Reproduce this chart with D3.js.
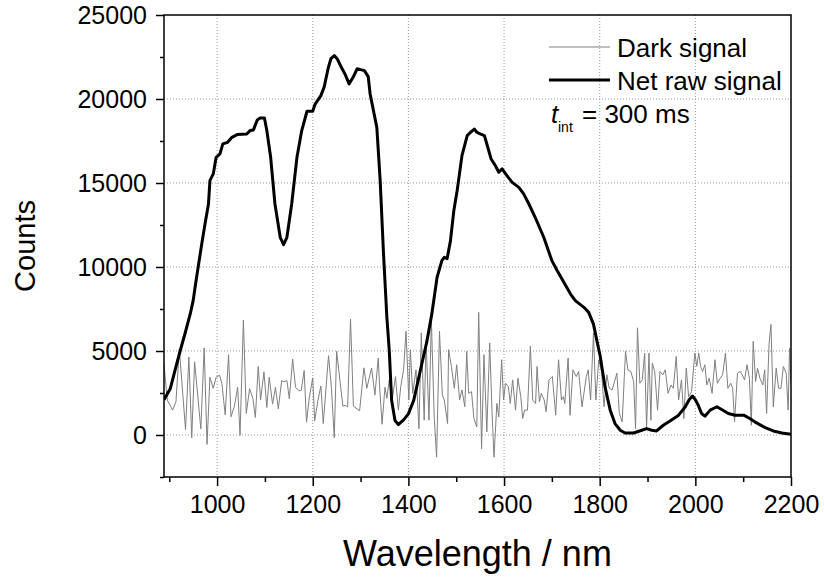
<!DOCTYPE html>
<html>
<head>
<meta charset="utf-8">
<script src="https://cdn.jsdelivr.net/npm/d3@7"></script>
<style>
  body { margin: 0; background: #fff; }
  svg { display: block; font-family: "Liberation Sans", Arial, Helvetica, sans-serif; }
</style>
</head>
<body>
<div id="chart"></div>
<script>
// dark signal (spectrometer noise)
const darkWavelength = [889, 896, 907, 914, 921, 934, 941, 947, 953, 966, 973, 979, 985, 992, 998, 1005, 1010, 1017, 1024, 1029, 1036, 1043, 1048, 1055, 1061, 1068, 1075, 1080, 1086, 1091, 1098, 1104, 1109, 1116, 1122, 1128, 1135, 1140, 1146, 1151, 1158, 1164, 1171, 1176, 1182, 1187, 1193, 1200, 1204, 1211, 1217, 1222, 1233, 1239, 1245, 1250, 1263, 1268, 1273, 1279, 1285, 1298, 1307, 1313, 1323, 1330, 1337,
  1340, 1345, 1351, 1355, 1360, 1366, 1373, 1379, 1384, 1390, 1395, 1401, 1404, 1409, 1416, 1422, 1427, 1433, 1437, 1443, 1448, 1454, 1459, 1465, 1471, 1475, 1482, 1484, 1490, 1496, 1501, 1507, 1512, 1518, 1522, 1526, 1532, 1537, 1543, 1547, 1553, 1558, 1564, 1570, 1575, 1579, 1585, 1589, 1595, 1599, 1603, 1609, 1613, 1618, 1624, 1629, 1635, 1639, 1643, 1649, 1655, 1660, 1666, 1669, 1674, 1678, 1684, 1688, 1694, 1701, 1708, 1714, 1720, 1724, 1727, 1734, 1738, 1744, 1751, 1756, 1763, 1772, 1776,
  1781, 1787, 1792, 1798, 1804, 1809, 1815, 1820, 1826, 1831, 1836, 1841, 1847, 1854, 1859, 1865, 1871, 1875, 1879, 1884, 1889, 1894, 1898, 1903, 1907, 1910, 1915, 1921, 1926, 1932, 1937, 1943, 1949, 1954, 1960, 1965, 1971, 1976, 1981, 1986, 1992, 1999, 2003, 2007, 2011, 2015, 2020, 2024, 2029, 2035, 2041, 2046, 2052, 2057, 2063, 2068, 2074, 2078, 2082, 2088, 2094, 2098, 2103, 2108, 2113, 2117, 2121, 2126, 2130, 2135, 2141, 2145, 2149, 2154, 2158, 2163, 2169, 2174, 2179, 2184, 2190, 2194, 2197, 2200];
const darkCounts = [4200, 2080, 1480, 1980, 5120, 320, 4640, -160, 4360, 360, 5180, -560, 3440, 2780, 3440, 3560, 3080, 1200, 4780, 1080, 1680, 2840, -20, 6840, 1280, 2760, 2160, 1040, 4080, 2080, 3760, 1640, 3440, 1840, 2840, 1560, 3240, 3160, 3240, 2160, 4520, 2840, 2640, 2640, 3840, 760, 2280, 3400, 840, 2080, 2920, 680, 4720, 2840, -160, 4980, 1720, 1760, 1680, 6900, 1720, 1440, 4000, 2780, 3980, 2380, 4580,
  2780, 640, 2840, 2180, 3280, 2080, 3480, 1480, 2880, 3880, 6180, 2080, 5080, 2480, 3880, 380, 6080, 880, 5680, 880, 6880, 1080, -1320, 6180, 2380, 2080, 680, 5080, 4080, 2780, 4180, 2080, 2680, 1680, 4980, 2480, 2580, 980, 480, 7300, -820, 4780, 180, 5480, 1280, -1320, 1880, 1080, 4480, 2080, 3080, 2880, 1880, 3280, 1480, 3380, 2280, 980, 1480, 1480, 5280, 2080, 1880, 4080, 1980, 2480, 2080, 1380, 3280, 3480, 1180, 4480, 2080, 2280, 1880, 4580, 1180, 3880, 3480, 3780, 1680, 3480, 3880,
  2080, 6080, 2080, 4480, 3780, 1680, 3580, 2780, 2680, 3180, 3680, 1280, 780, 4980, 3880, 3780, 3180, 380, 6380, 3080, 3280, 4880, 380, 4880, 880, 4280, 3780, 1480, 3780, 3580, 3880, 2480, 2980, 2780, 4680, 2080, 3280, 980, 3980, 2280, 2580, 4880, 4080, 4880, 4080, 3780, 4180, 2980, 3380, 2480, 4480, 3080, 3380, 3580, 4880, 2780, 3080, 2780, 780, 3680, 3780, 3580, 3280, 4180, 3380, 580, 5580, 3180, 3980, 3380, 2980, 3880, 1280, 5380, 6580, 1680, 3980, 2780, 2780, 4080, 3680, 1480, 5180, 3080];

// net raw signal
const netWavelength = [889, 902, 912, 923, 933, 944, 950, 954, 961, 968, 975, 982, 985, 992, 998, 1006, 1012, 1022, 1031, 1042, 1062, 1069, 1076, 1084, 1090, 1099, 1104, 1112, 1121, 1132, 1139, 1146, 1156, 1167, 1177, 1188, 1200, 1205, 1217, 1224, 1232, 1238, 1245, 1251, 1259, 1268, 1276, 1285, 1293, 1300, 1308, 1316, 1320, 1334, 1341, 1348, 1355, 1360, 1365, 1372, 1379, 1390, 1400, 1411, 1425, 1439, 1449, 1460, 1470, 1475, 1481, 1488, 1495, 1502, 1512, 1523, 1530, 1538, 1543, 1550, 1559, 1564, 1573, 1582, 1589, 1596, 1606, 1617, 1631, 1641, 1652, 1665, 1683, 1700, 1711, 1725, 1739, 1749, 1767, 1777, 1787, 1795, 1801, 1811, 1822, 1832, 1843, 1853, 1871, 1888, 1898, 1909, 1919, 1933, 1947, 1965, 1979, 1987, 1994, 2000, 2006, 2013, 2020, 2031, 2045, 2055, 2069, 2083, 2101, 2114, 2128, 2146, 2163, 2181, 2200];
const netCounts = [2100, 2750, 3840, 5030, 6040, 7220, 8000, 8790, 10100, 11380, 12600, 13750, 15140, 15540, 16530, 16730, 17330, 17420, 17720, 17880, 17920, 18120, 18160, 18750, 18870, 18870, 18120, 16530, 13750, 11770, 11330, 11770, 13750, 16530, 18120, 19270, 19270, 19700, 20200, 20720, 21800, 22400, 22580, 22400, 21930, 21450, 20900, 21330, 21800, 21750, 21690, 21330, 20300, 18310, 15140, 10780, 7000, 5030, 2050, 860, 620, 900, 1260, 2050, 3840, 5620, 7210, 9390, 10380, 10580, 10500, 11570, 13350, 14550, 16630, 17820, 18020, 18210, 18020, 17920, 17820, 17320, 16430, 16030, 15640, 15840, 15440, 15040, 14740, 14350, 13750, 12960, 11770, 10380, 9790, 9090, 8390, 8000, 7600, 7300, 6600, 5500, 4700, 2880, 1480, 680, 280, 120, 120, 280, 380, 280, 240, 580, 840, 1180, 1680, 2100, 2320, 2100, 1780, 1280, 1120, 1480, 1680, 1520, 1280, 1180, 1180, 980, 720, 440, 240, 120, 40];

const xMajor = [1000, 1200, 1400, 1600, 1800, 2000, 2200];
const xMinor = [900, 1100, 1300, 1500, 1700, 1900, 2100];
const yMajor = [0, 5000, 10000, 15000, 20000, 25000];
const yMinor = [-2500, 2500, 7500, 12500, 17500, 22500];
const xGrid = [1000, 1200, 1400, 1600, 1800, 2000];
const yGrid = [0, 5000, 10000, 15000, 20000];

const width = 824, height = 579;
const margin = { top: 15, right: 33, bottom: 102, left: 164 };
const x = d3.scaleLinear().domain([889, 2200]).range([margin.left, width - margin.right]);
const y = d3.scaleLinear().domain([-2500, 25000]).range([height - margin.bottom, margin.top]);

const svg = d3.select('#chart').append('svg')
  .attr('width', width)
  .attr('height', height);

svg.append('defs').append('clipPath').attr('id', 'plot')
  .append('rect')
  .attr('x', x.range()[0]).attr('y', y.range()[1])
  .attr('width', x.range()[1] - x.range()[0])
  .attr('height', y.range()[0] - y.range()[1]);

// dotted grid
svg.append('g').selectAll('line').data(xGrid).join('line')
  .attr('x1', d => x(d)).attr('x2', d => x(d))
  .attr('y1', y.range()[1]).attr('y2', y.range()[0])
  .attr('stroke', '#999').attr('stroke-dasharray', '1,2');
svg.append('g').selectAll('line').data(yGrid).join('line')
  .attr('x1', x.range()[0]).attr('x2', x.range()[1])
  .attr('y1', d => y(d)).attr('y2', d => y(d))
  .attr('stroke', '#999').attr('stroke-dasharray', '1,2');

// lines
const dark = darkWavelength.map((w, i) => [w, darkCounts[i]]);
const net = netWavelength.map((w, i) => [w, netCounts[i]]);
const line = d3.line().x(d => x(d[0])).y(d => y(d[1]));

const plot = svg.append('g').attr('clip-path', 'url(#plot)');
plot.append('path').datum(dark)
  .attr('d', line)
  .attr('fill', 'none')
  .attr('stroke', '#808080')
  .attr('stroke-width', 1);
plot.append('path').datum(net)
  .attr('d', line)
  .attr('fill', 'none')
  .attr('stroke', '#000')
  .attr('stroke-width', 3)
  .attr('stroke-linejoin', 'round');

// axes
svg.append('g')
  .attr('transform', `translate(0,${y.range()[0]})`)
  .call(d3.axisBottom(x).tickValues(xMajor).tickSize(9).tickPadding(9).tickFormat(d3.format('d')));
svg.append('g')
  .attr('transform', `translate(0,${y.range()[0]})`)
  .call(d3.axisBottom(x).tickValues(xMinor).tickSize(5).tickFormat(''));
svg.append('g')
  .attr('transform', `translate(${x.range()[0]},0)`)
  .call(d3.axisLeft(y).tickValues(yMajor).tickSize(8).tickPadding(9).tickFormat(d3.format('d')));
svg.append('g')
  .attr('transform', `translate(${x.range()[0]},0)`)
  .call(d3.axisLeft(y).tickValues(yMinor).tickSize(4).tickFormat(''));

svg.selectAll('.domain').remove();
svg.selectAll('.tick line').attr('stroke', '#000').attr('stroke-width', 1.5);
svg.selectAll('.tick text').attr('font-size', 25).attr('fill', '#000')
  .attr('font-family', '"Liberation Sans", Arial, sans-serif');

// frame
svg.append('rect')
  .attr('x', x.range()[0]).attr('y', y.range()[1])
  .attr('width', x.range()[1] - x.range()[0])
  .attr('height', y.range()[0] - y.range()[1])
  .attr('fill', 'none').attr('stroke', '#000').attr('stroke-width', 1.5);

// axis titles
svg.append('text')
  .attr('x', (x.range()[0] + x.range()[1]) / 2)
  .attr('y', 566)
  .attr('text-anchor', 'middle')
  .attr('font-size', 36)
  .text('Wavelength / nm');

svg.append('text')
  .attr('transform', 'rotate(-90)')
  .attr('x', -(y.range()[0] + y.range()[1]) / 2)
  .attr('y', 35)
  .attr('text-anchor', 'middle')
  .attr('font-size', 29)
  .text('Counts');

// legend
const legend = [
  { label: 'Dark signal', color: '#808080', w: 1 },
  { label: 'Net raw signal', color: '#000', w: 3 }
];
const lg = svg.append('g').attr('transform', 'translate(549,47)');
legend.forEach((d, i) => {
  lg.append('line')
    .attr('x1', 0).attr('x2', 61)
    .attr('y1', i * 33).attr('y2', i * 33)
    .attr('stroke', d.color).attr('stroke-width', d.w);
  lg.append('text')
    .attr('x', 68).attr('y', i * 33 + 10)
    .attr('font-size', 26)
    .text(d.label);
});

// integration time note: t with subscript "int"
const tint = svg.append('g').attr('transform', 'translate(551,123)');
tint.append('text').attr('font-size', 26).attr('font-style', 'italic').text('t');
tint.append('text').attr('x', 7).attr('y', 9).attr('font-size', 14).text('int');
tint.append('text').attr('x', 31).attr('font-size', 26).text('= 300 ms');
</script>
</body>
</html>
